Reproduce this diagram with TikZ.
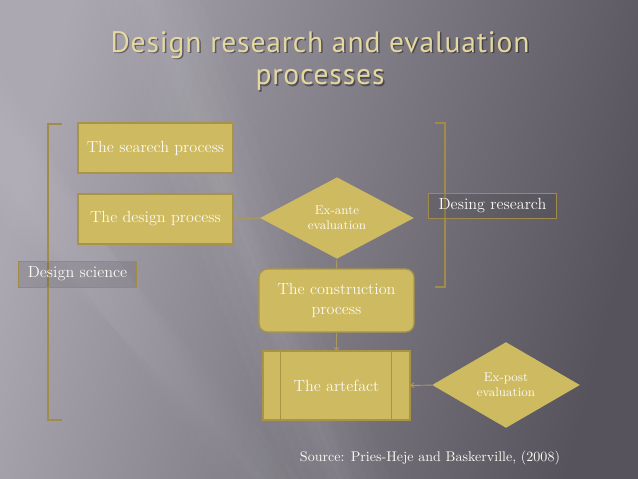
\documentclass[tikz,border=0pt]{standalone}
\usepackage{fontspec}
\newfontfamily\titlefont[LetterSpace=3]{PT Sans}
\usetikzlibrary{shapes.geometric,arrows.meta}

\begin{document}
\begin{tikzpicture}[x=0.025cm, y=-0.025cm, thick]

  % Define Colors
  \definecolor{bglight}{RGB}{172,168,178}
  \definecolor{bgdark}{RGB}{86,83,92}
  \definecolor{gold}{RGB}{206,186,96}
  \definecolor{golddark}{RGB}{168,148,72}
  \definecolor{bracketgold}{RGB}{160,140,72}
  \definecolor{titlegold}{RGB}{228,216,160}
  \definecolor{linkgold}{RGB}{170,152,96}
  \definecolor{cream}{RGB}{252,250,242}

  % Node styles
  \tikzstyle{procbox}=[rectangle, draw=golddark, line width=0.9pt, fill=gold, text=cream,
    minimum width=3.875cm, minimum height=1.25cm, font=\fontsize{11.5}{14}\selectfont]
  \tikzstyle{roundbox}=[procbox, rounded corners=6pt, minimum height=1.575cm, align=center]
  \tikzstyle{artbox}=[procbox, minimum width=3.675cm, minimum height=1.725cm]
  \tikzstyle{evaldia}=[diamond, fill=gold, text=cream, inner sep=0pt, align=center,
    font=\fontsize{9}{10.5}\selectfont]
  \tikzstyle{tagbox}=[rectangle, draw=bracketgold, line width=0.7pt, fill=black, fill opacity=0.1,
    text opacity=1, text=cream, inner sep=0pt, font=\fontsize{11.5}{14}\selectfont]
  \tikzstyle{bracket}=[bracketgold, line width=1.6pt]
  \tikzstyle{link}=[linkgold, line width=0.7pt]
  \tikzstyle{flow}=[link, -{To[length=2.5pt,width=4pt]}]
  \tikzstyle{heading}=[text=titlegold, font=\titlefont\fontsize{21}{24}\selectfont]

  % Background
  \useasboundingbox (0,0) rectangle (638,479);
  \shade[left color=bglight, right color=bgdark, shading angle=75] (0,0) rectangle (638,479);
  \foreach \w in {0,12,...,60}
    \fill[white, opacity=0.018] (100+\w,0) -- (200-\w,0) -- (390-\w,479) -- (290+\w,479) -- cycle;
  \foreach \w in {0,12,...,48}
    \fill[white, opacity=0.015] (0,170+\w) -- (0,120-\w) -- (300-\w,479) -- (220+\w,479) -- cycle;

  % Title
  \node[heading, text=black, opacity=0.4] at (321.5,46.5) {Design research and evaluation};
  \node[heading, text=black, opacity=0.4] at (321.5,81.5) {processes};
  \node[heading] (title1) at (320,45) {Design research and evaluation};
  \node[heading] (title2) at (320,80) {processes};

  % Brackets
  \coordinate (ds_top) at (62,124);
  \coordinate (ds_bot) at (62,420);
  \coordinate (dr_top) at (435,123);
  \coordinate (dr_bot) at (435,287);
  \draw[bracket] (ds_top) -- (48,124) -- (48,420) -- (ds_bot);
  \draw[bracket] (dr_top) -- (445,123) -- (445,287) -- (dr_bot);

  % Nodes
  \node[procbox] (search) at (155.5,148) {The searech process};
  \node[procbox] (design) at (155.5,219) {The design process};
  \node[evaldia, minimum width=3.85cm, minimum height=2cm] (exante) at (337,218) {Ex-ante\\evaluation};
  \node[roundbox] (construct) at (336.5,300.5) {The construction\\process};
  \node[artbox] (artefact) at (336.5,385.5) {The artefact};
  \draw[golddark, line width=0.9pt] ([xshift=0.45cm]artefact.north west) -- ([xshift=0.45cm]artefact.south west);
  \draw[golddark, line width=0.9pt] ([xshift=-0.475cm]artefact.north east) -- ([xshift=-0.475cm]artefact.south east);
  \node[evaldia, minimum width=3.7cm, minimum height=2.15cm] (expost) at (506,385) {Ex-post\\evaluation};

  % Links
  \draw[flow] (search) -- (design);
  \draw[link] (design) -- (exante);
  \draw[link] (exante) -- (construct);
  \draw[flow] (construct) -- (artefact);
  \draw[flow] (expost) -- (artefact);

  % Legends
  \node[tagbox, minimum width=3.175cm, minimum height=0.625cm] (desres) at (492.5,206) {Desing research};
  \node[tagbox, minimum width=2.925cm, minimum height=0.65cm] (dessci) at (77.5,274) {Design science};
  \node[text=cream, font=\fontsize{10}{12}\selectfont] (source) at (430,458) {Source: Pries-Heje and Baskerville, (2008)};

\end{tikzpicture}
\end{document}
